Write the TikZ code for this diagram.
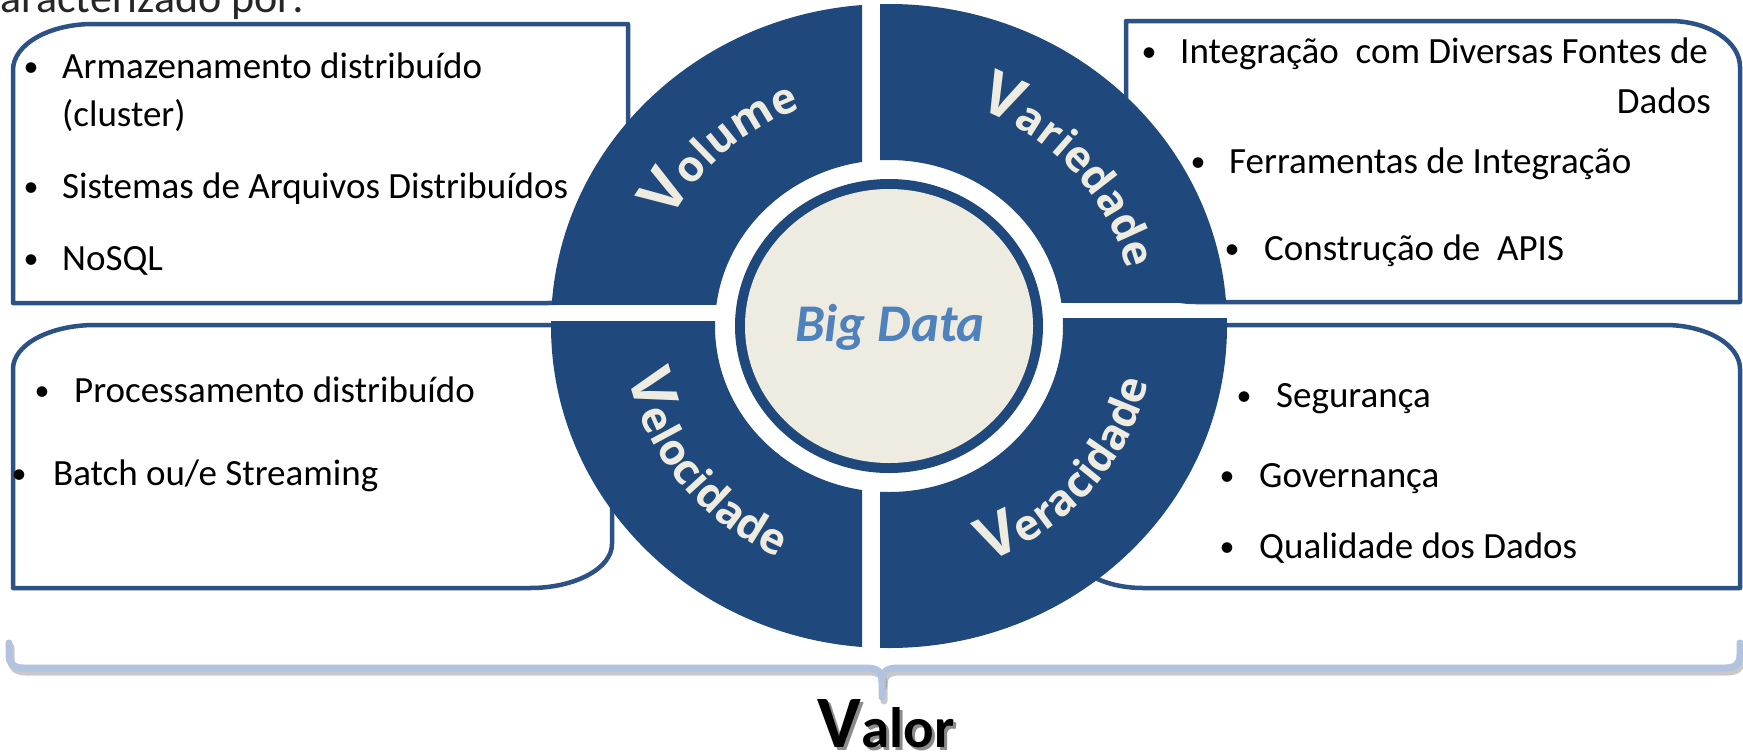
\documentclass[tikz,border=0pt]{standalone}
\usepackage{fontspec}
\setmainfont{Carlito}
\newfontfamily\lblfam{Open Sans}
\usetikzlibrary{decorations.text}
\definecolor{qblue}{HTML}{1F497D}
\definecolor{bordblue}{HTML}{2B5185}
\definecolor{beige}{HTML}{EEECE1}
\definecolor{bdblue}{HTML}{4F81BD}
\definecolor{bracecol}{HTML}{B2C3DF}
\newcommand{\lblsmall}{\lblfam\bfseries\fontsize{43}{46}\selectfont}
\newcommand{\lblbig}{\lblfam\bfseries\fontsize{60}{64}\selectfont}
\begin{document}
\begin{tikzpicture}[x=1pt,y=1pt,
  box/.style={draw=bordblue, line width=4.5pt, fill=white, line join=round},
  txt/.style={anchor=base west, inner sep=0pt, font=\fontsize{37}{45}\selectfont},
  bul/.style={anchor=base, inner sep=0pt, yshift=2pt, font=\fontsize{30}{36}\selectfont},
  quad/.style={fill=qblue, even odd rule},
  arclbl/.style={decorate, decoration={text along path, text align=center, text color=beige}},
  bracestyle/.style={line width=7pt, line cap=round, line join=round},
  valorstyle/.style={anchor=base, inner sep=0pt, text depth=0pt, text height=50pt}]

\useasboundingbox (0,0) rectangle (1743,-753);
\clip (0,0) rectangle (1743,-753);
\fill[white] (0,0) rectangle (1743,-753);

\coordinate (C) at (889,-326);

% partial heading at top
\node[anchor=base east, inner sep=0pt, font=\fontsize{44}{50}\selectfont, text=black!85] (intro) at (305,-12) {caracterizado por:};

% boxes
\path[box] (13,-70) -- (13,-303) -- (548,-303) arc[start angle=270, end angle=360, x radius=80, y radius=46] -- (628,-24) -- (93,-24) arc[start angle=90, end angle=180, x radius=80, y radius=46] -- cycle;
\path[box] (1126,-21) -- (1670,-21) arc[start angle=90, end angle=0, x radius=70, y radius=46] -- (1740,-302) -- (1196,-302) arc[start angle=270, end angle=180, x radius=70, y radius=46] -- cycle;
\path[box] (13,-369) -- (13,-588) -- (530,-588) arc[start angle=270, end angle=360, x radius=82, y radius=44] -- (612,-325) -- (95,-325) arc[start angle=90, end angle=180, x radius=82, y radius=44] -- cycle;
\path[box] (1068,-325) -- (1665,-325) arc[start angle=90, end angle=0, x radius=75, y radius=44] -- (1740,-588) -- (1143,-588) arc[start angle=270, end angle=180, x radius=75, y radius=44] -- cycle;

% quadrants
\begin{scope}
\clip (500,0) rectangle (862,-304);
\path[quad] (C) ellipse [x radius=338, y radius=322] (C) ellipse [x radius=174, y radius=166];
\end{scope}
\begin{scope}
\clip (880,0) rectangle (1260,-302);
\path[quad] (C) ellipse [x radius=338, y radius=322] (C) ellipse [x radius=174, y radius=166];
\end{scope}
\begin{scope}
\clip (500,-321) rectangle (862,-700);
\path[quad] (C) ellipse [x radius=338, y radius=322] (C) ellipse [x radius=174, y radius=166];
\end{scope}
\begin{scope}
\clip (880,-318) rectangle (1260,-700);
\path[quad] (C) ellipse [x radius=338, y radius=322] (C) ellipse [x radius=174, y radius=166];
\end{scope}

% centre
\fill[qblue] (C) ellipse [x radius=154, y radius=147];
\fill[beige] (C) ellipse [x radius=144, y radius=137];
\node[anchor=base, inner sep=0pt, text=bdblue, font=\fontsize{53}{56}\selectfont\bfseries\itshape] (bigdata) at (890,-341) {Big Data};

% quadrant labels
\path[arclbl, decoration={text={|\lblbig|V|\lblsmall|olume}}] ([shift={(175:245 and 233)}]C) arc[start angle=175, end angle=90, x radius=245, y radius=233];
\path[arclbl, decoration={text={|\lblbig|V|\lblsmall|ariedade}}] ([shift={(88:245 and 233)}]C) arc[start angle=88, end angle=-6, x radius=245, y radius=233];
\path[arclbl, decoration={text={|\lblbig|V|\lblsmall|elocidade}}] ([shift={(172:266 and 254)}]C) arc[start angle=172, end angle=264, x radius=266, y radius=254];
\path[arclbl, decoration={text={|\lblbig|V|\lblsmall|eracidade}}] ([shift={(274:266 and 254)}]C) arc[start angle=274, end angle=366, x radius=266, y radius=254];

% top-left texts
\node[bul] (b11) at (31,-78) {•};
\node[txt] (t11) at (62,-78) {Armazenamento distribuído};
\node[txt] (t11b) at (62,-126) {(cluster)};
\node[bul] (b12) at (31,-198) {•};
\node[txt] (t12) at (62,-198) {Sistemas de Arquivos Distribuídos};
\node[bul] (b13) at (31,-270) {•};
\node[txt] (t13) at (62,-270) {NoSQL};

% top-right texts
\node[bul] (b21) at (1149,-63) {•};
\node[txt] (t21) at (1180,-63) {Integração\ \ com Diversas Fontes de};
\node[anchor=base east, inner sep=0pt, font=\fontsize{37}{45}\selectfont] (t21b) at (1711,-113) {Dados};
\node[bul] (b22) at (1198,-173) {•};
\node[txt] (t22) at (1229,-173) {Ferramentas de Integração};
\node[bul] (b23) at (1232,-260) {•};
\node[txt] (t23) at (1264,-260) {Construção de\ \ APIS};

% bottom-left texts
\node[bul] (b31) at (42,-402) {•};
\node[txt] (t31) at (74,-402) {Processamento distribuído};
\node[bul] (b32) at (19,-485) {•};
\node[txt] (t32) at (53,-485) {Batch ou/e Streaming};

% bottom-right texts
\node[bul] (b41) at (1244,-407) {•};
\node[txt] (t41) at (1276,-407) {Segurança};
\node[bul] (b42) at (1227,-487) {•};
\node[txt] (t42) at (1259,-487) {Governança};
\node[bul] (b43) at (1227,-558) {•};
\node[txt] (t43) at (1259,-558) {Qualidade dos Dados};

% brace with shadow
\begin{scope}[shift={(2,-4)}, opacity=0.35]
\draw[black!60, bracestyle] (9,-643) -- (9,-655) .. controls (9,-664) and (14,-668) .. (24,-668) -- (866,-668) .. controls (878,-668) and (882,-672) .. (882,-682) -- (882,-697);
\draw[black!60, bracestyle] (1740,-643) -- (1740,-655) .. controls (1740,-664) and (1735,-668) .. (1725,-668) -- (898,-668) .. controls (886,-668) and (882,-672) .. (882,-682);
\end{scope}
\draw[bracecol, bracestyle] (9,-643) -- (9,-655) .. controls (9,-664) and (14,-668) .. (24,-668) -- (866,-668) .. controls (878,-668) and (882,-672) .. (882,-682) -- (882,-697);
\draw[bracecol, bracestyle] (1740,-643) -- (1740,-655) .. controls (1740,-664) and (1735,-668) .. (1725,-668) -- (898,-668) .. controls (886,-668) and (882,-672) .. (882,-682);

% Valor
\node[valorstyle, text=black!45] (valorshadow) at (889,-750) {\bfseries\fontsize{74}{74}\selectfont V\fontsize{57}{57}\selectfont alor};
\node[valorstyle] (valor) at (886,-747) {\bfseries\fontsize{74}{74}\selectfont V\fontsize{57}{57}\selectfont alor};
\end{tikzpicture}
\end{document}
